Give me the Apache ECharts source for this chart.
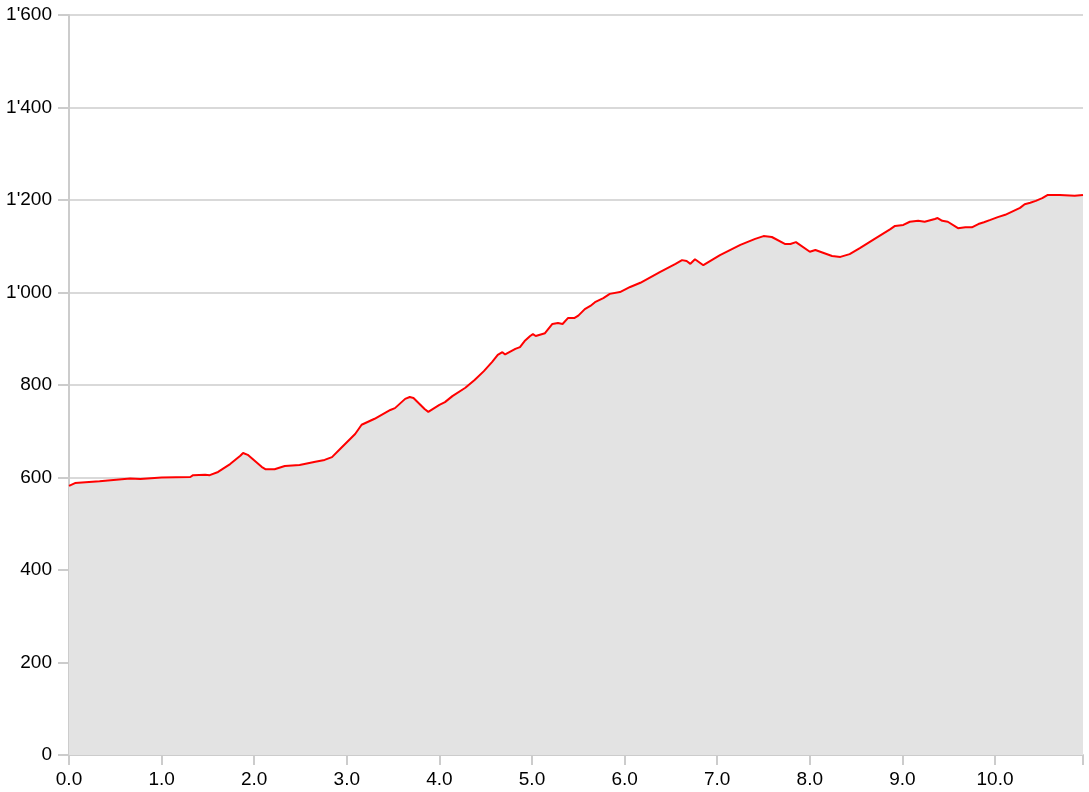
<!DOCTYPE html>
<html>
<head>
<meta charset="utf-8">
<script src="https://cdn.jsdelivr.net/npm/echarts@6/dist/echarts.min.js"></script>
<style>html,body{margin:0;padding:0;background:#fff}#c{width:1089px;height:792px}</style>
</head>
<body>
<div id="c"></div>
<script>
const distance = [0,0.065,0.33,0.66,0.77,1.0,1.31,1.34,1.47,1.52,1.61,1.74,1.85,1.88,1.93,2.08,2.12,2.22,2.33,2.49,2.66,2.76,2.84,2.93,3.09,3.16,3.30,3.47,3.52,3.63,3.68,3.72,3.84,3.88,4.0,4.06,4.14,4.28,4.38,4.48,4.57,4.63,4.68,4.71,4.82,4.87,4.92,4.98,5.01,5.04,5.14,5.22,5.28,5.33,5.39,5.46,5.50,5.57,5.63,5.68,5.77,5.84,5.95,6.06,6.17,6.38,6.55,6.62,6.67,6.71,6.76,6.85,7.03,7.25,7.41,7.50,7.59,7.73,7.79,7.85,8.0,8.06,8.24,8.33,8.43,8.54,8.70,8.87,8.92,9.01,9.08,9.17,9.24,9.35,9.38,9.43,9.49,9.60,9.68,9.75,9.82,9.88,9.95,10.03,10.11,10.27,10.32,10.38,10.44,10.51,10.57,10.70,10.86,10.95];
const elevation = [582,588,592,598,597,600,601,605,606,605,612,629,647,653,649,623,618,618,625,627,634,638,644,662,694,714,727,746,750,770,774,772,748,742,757,763,776,794,811,830,850,865,871,866,878,882,895,906,910,906,912,932,934,932,945,945,950,964,971,979,988,997,1001,1012,1021,1044,1062,1070,1068,1062,1072,1059,1081,1103,1116,1122,1120,1105,1105,1109,1088,1092,1079,1077,1083,1096,1116,1137,1144,1146,1153,1155,1153,1159,1161,1155,1153,1139,1141,1141,1148,1152,1157,1163,1168,1183,1191,1194,1198,1204,1211,1211,1209,1211];
const yTicks = [0,200,400,600,800,1000,1200,1400,1600];

const data = distance.map((d,i)=>[d, elevation[i]]);
function fmtThousands(v){
  const s = String(Math.round(v));
  return s.replace(/\B(?=(\d{3})+(?!\d))/g, "'");
}
const chart = echarts.init(document.getElementById('c'), null, {renderer:'canvas'});
chart.setOption({
  animation:false,
  backgroundColor:'#fff',
  grid:{left:69,right:6,top:15,bottom:37,containLabel:false},
  xAxis:{
    type:'value', min:0, max:10.95, interval:1,
    axisLine:{show:true,lineStyle:{color:'#cccccc',width:2}},
    axisTick:{show:true,length:10,lineStyle:{color:'#cccccc',width:2}},
    splitLine:{show:false},
    axisLabel:{color:'#000',fontFamily:'Liberation Sans, Arial, sans-serif',fontSize:19,margin:15,
      formatter:v=> (Math.abs(v-Math.round(v))<1e-9) ? v.toFixed(1) : '' ,
      showMaxLabel:true}
  },
  yAxis:{
    type:'value', min:yTicks[0], max:yTicks[yTicks.length-1], interval:200,
    axisLine:{show:true,lineStyle:{color:'#cccccc',width:2}},
    axisTick:{show:true,length:11,lineStyle:{color:'#cccccc',width:2}},
    splitLine:{show:true,lineStyle:{color:'#d9d9d9',width:2}},
    axisLabel:{color:'#000',fontFamily:'Liberation Sans, Arial, sans-serif',fontSize:19,margin:17,
      formatter:v=>fmtThousands(v)}
  },
  series:[{
    type:'line', data:data, showSymbol:false, symbol:'none',
    lineStyle:{color:'#ff0000',width:2},
    areaStyle:{color:'#e3e3e3',opacity:1},
    z:3
  }]
});
</script>
</body>
</html>
